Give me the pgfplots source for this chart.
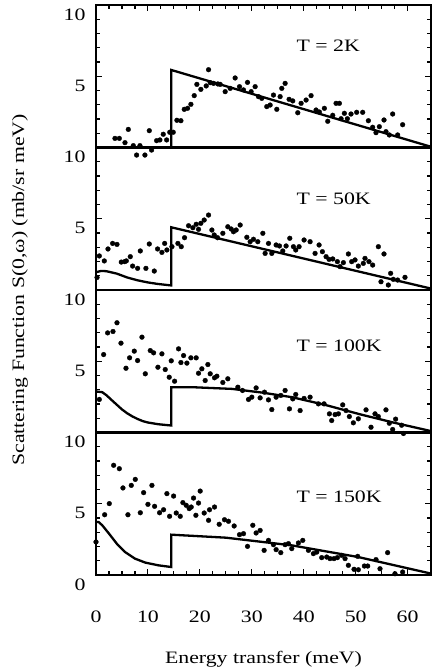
\documentclass[border=0pt]{standalone}
\usepackage{fontspec}
\setmainfont{Liberation Serif}[FakeStretch=1.25]
\usepackage{pgfplots}
\pgfplotsset{compat=1.18}

\pgfplotsset{
  panel/.style={
    scale only axis, width=335bp, height=142.5bp,
    anchor=north west,
    xmin=0, xmax=64.5, ymin=0, ymax=10,
    axis line style={line width=2.2bp, black},
    every outer x axis line/.append style={line width=2.2bp},
    every outer y axis line/.append style={line width=2.2bp},
    tick style={line width=1.1bp, black},
    major tick length=6bp, minor tick length=4bp,
    tick align=inside,
    ytick={5,10}, minor ytick={1,2,3,4,6,7,8,9},
    ytick pos=both, yticklabel pos=left,
    yticklabel style={anchor=north east, xshift=-7bp},
    tick label style={font=\fontsize{17.5}{20}\selectfont},
    /pgf/number format/assume math mode=true,
    clip=false,
  },
  model/.style={black, line width=2.3bp, no marks},
  pts/.style={only marks, mark=*, mark size=2.4bp, line width=0.3bp, black},
}
\tikzset{tlab/.style={anchor=west, inner sep=0pt, font=\fontsize{17.5}{20}\selectfont}}

\begin{document}
\begin{tikzpicture}

% T = 2K
\begin{axis}[panel, at={(96bp,-5bp)},
  xtick={0,10,...,60}, minor x tick num=3, xtick pos=right, xticklabels={}]
\addplot[model] coordinates {(0,0) (14.5,0) (14.5,5.44) (64.5,0.05)};
\addplot[pts] coordinates {
(3.65,0.64)(4.49,0.64)(5.58,0.34)(6.22,1.27)(7.18,0.13)(7.82,-0.53)(8.46,0.13)
(9.42,-0.53)(10.26,1.18)(10.7,-0.18)(11.67,0.48)(12.3,0.53)(12.95,0.93)(13.6,0.53)
(14.2,1.07)(14.87,1.07)(15.58,1.91)(16.35,1.88)(16.99,2.68)(17.63,2.75)(18.27,3.03)
(18.91,3.64)(19.42,4.43)(20.19,4.08)(21.22,4.32)(21.67,5.46)(21.99,4.55)(22.63,4.50)
(23.46,4.46)(23.91,4.43)(24.87,3.92)(25.83,4.15)(26.79,4.88)(27.63,4.27)(28.40,4.04)
(29.17,4.57)(29.87,3.92)(30.64,4.27)(31.28,3.57)(31.92,3.45)(32.88,2.87)(33.53,2.98)
(34.17,3.68)(34.81,2.68)(35.45,3.57)(35.77,4.15)(36.41,4.50)(37.18,3.38)(37.88,3.27)
(38.85,2.44)(39.49,3.10)(40.45,3.33)(41.41,3.64)(42.37,2.63)(43.01,2.49)(43.97,2.75)
(44.62,1.84)(45.58,2.26)(46.22,3.10)(46.86,3.10)(47.18,2.02)(47.82,2.40)(48.40,2.02)
(49.10,2.35)(50.19,2.47)(51.35,2.47)(52.44,1.88)(53.27,1.42)(53.91,1.04)(54.55,1.46)
(55.45,1.93)(55.83,1.11)(56.47,0.88)(57.12,2.35)(58.08,0.88)(59.04,1.60)
};
\node[tlab] at (axis cs:38.6,7.14) {T = 2K};
\end{axis}

% T = 50K
\begin{axis}[panel, at={(96bp,-147.5bp)}, xtick=\empty]
\addplot[model] coordinates {(0,1.25) (1,1.34) (2,1.32) (4,1.15) (6,0.88) (8,0.68)
  (10,0.53) (12,0.42) (14.5,0.32) (14.5,4.40) (64.5,0.1)};
\addplot[pts] coordinates {
(0.2,0.88)(0.64,2.39)(1.60,2.04)(2.31,2.88)(3.20,3.27)(4.04,3.20)(4.87,1.96)(5.51,1.99)
(5.83,2.04)(6.60,2.34)(7.05,1.68)(8.01,1.52)(8.53,2.74)(9.61,1.52)(10.26,3.23)
(11.22,1.33)(11.86,2.88)(12.69,2.64)(13.22,3.27)(13.65,2.81)(14.62,3.04)(15.77,3.27)
(16.41,3.04)(17.05,3.67)(17.82,4.51)(18.65,4.37)(19.29,4.61)(19.74,4.26)(20.19,4.68)
(20.83,4.91)(21.67,5.26)(22.31,4.21)(22.76,3.86)(23.40,3.67)(24.42,3.98)(25.38,4.44)
(26.03,4.28)(26.47,4.09)(26.99,4.21)(27.76,4.56)(29.04,3.70)(29.68,3.39)(30.32,3.56)
(31.15,3.39)(32.12,3.98)(32.56,2.57)(33.21,3.27)(33.85,2.57)(34.68,3.16)(35.32,3.09)
(35.96,2.74)(36.60,3.09)(37.31,3.63)(38.01,3.04)(38.46,2.81)(39.10,3.04)(40.06,3.51)
(41.22,3.39)(42.18,2.57)(42.95,3.16)(43.59,2.69)(44.30,2.34)(44.87,2.15)(45.58,2.18)
(46.47,1.99)(46.99,1.64)(47.63,1.92)(48.59,2.53)(49.23,1.99)(49.87,2.11)(50.51,1.68)
(51.47,1.87)(51.79,2.22)(52.56,1.99)(53.27,1.75)(54.36,3.04)(55.45,2.53)(54.87,0.58)
(56.28,0.35)(56.73,1.17)(57.24,0.75)(58.08,0.70)(59.49,0.89)
};
\node[tlab] at (axis cs:38.6,6.43) {T = 50K};
\end{axis}

% T = 100K
\begin{axis}[panel, at={(96bp,-290bp)}, xtick=\empty]
\addplot[model] coordinates {(0,2.88) (1.2,2.83) (2,2.62) (3,2.28) (4,1.95) (5,1.62)
  (6,1.35) (7,1.13) (8,0.95) (9,0.80) (10,0.70) (12,0.58) (14.5,0.49) (14.5,3.18)
  (18.5,3.18) (26.2,3.06) (32,2.80) (37.7,2.48) (44,1.95) (50.5,1.31) (57,0.72) (64.5,0.1)};
\addplot[pts] coordinates {
(0.64,2.32)(1.47,5.47)(2.24,6.99)(3.27,7.09)(4.04,7.70)(4.81,6.27)(5.77,4.51)(6.47,5.24)
(7.37,5.71)(8.01,5.05)(8.85,6.69)(9.49,4.12)(10.45,5.75)(11.09,5.59)(11.92,4.58)
(12.69,5.52)(13.33,4.42)(14.10,3.88)(14.49,5.03)(15.13,3.60)(15.90,5.87)(16.35,4.91)
(16.86,5.40)(17.50,4.87)(18.27,5.24)(19.29,5.24)(19.74,4.16)(20.38,4.47)(21.54,4.77)
(21.02,3.65)(21.99,4.12)(22.82,3.84)(23.27,3.95)(24.42,3.51)(25.38,3.77)(27.31,3.18)
(28.21,2.95)(29.36,2.32)(30.00,2.48)(30.83,3.13)(31.60,2.43)(32.44,2.83)(33.21,2.29)
(33.85,1.61)(34.68,2.48)(35.58,2.60)(36.41,2.95)(37.24,1.66)(37.88,2.36)(38.46,2.67)
(39.30,1.54)(40.06,2.39)(41.22,2.48)(42.82,2.01)(43.91,2.01)(44.94,1.31)(45.38,0.84)
(46.03,1.26)(46.67,1.31)(47.50,1.94)(48.14,1.54)(48.78,1.12)(49.55,0.68)(50.51,0.96)
(51.99,1.59)(52.95,0.37)(53.72,1.31)(54.36,1.12)(55.83,1.59)(56.47,0.65)(57.12,0.21)
(57.69,0.94)(58.85,0.51)(59.2,-0.07)
};
\node[tlab] at (axis cs:38.6,6.12) {T = 100K};
\end{axis}

% T = 150K
\begin{axis}[panel, at={(96bp,-432.5bp)},
  xtick={0,10,...,60}, minor x tick num=3, xtick pos=left,
  xticklabel style={yshift=-32bp}, ytick={0,5,10}]
\addplot[model] coordinates {(0,3.72) (0.5,3.72) (1.2,3.49) (2.4,2.95) (4,2.20)
  (5.6,1.61) (7.5,1.15) (9.5,0.87) (12,0.68) (14.5,0.56) (14.5,2.83) (25,2.62)
  (37.7,2.08) (50.5,1.26) (64.5,0.1)};
\addplot[pts] coordinates {
(0.0,2.32)(1.67,4.23)(2.56,5.01)(3.40,7.70)(4.49,7.46)(5.19,6.11)(6.15,4.23)(6.79,6.29)
(7.56,6.71)(8.53,4.37)(9.17,5.78)(10.0,4.96)(10.77,6.29)(11.28,4.82)(12.24,4.37)
(13.01,4.58)(13.65,5.71)(14.17,4.12)(14.94,5.54)(15.45,4.35)(16.22,4.12)(16.73,5.08)
(17.37,4.89)(17.95,4.66)(18.33,4.77)(18.78,5.40)(19.23,4.19)(19.74,5.05)(20.06,5.89)
(20.83,4.35)(21.67,3.84)(21.86,4.58)(22.82,4.77)(23.72,3.56)(24.74,3.88)(25.51,3.77)
(26.60,3.44)(27.63,2.83)(28.40,2.90)(29.17,2.01)(30.19,3.49)(30.83,2.95)(31.60,3.13)
(32.37,1.73)(33.21,2.43)(34.17,2.13)(34.68,1.78)(35.58,1.57)(36.41,2.13)(37.05,2.20)
(37.69,1.85)(38.97,2.25)(39.81,2.43)(40.90,1.73)(41.86,1.50)(42.50,1.61)(43.46,1.22)
(44.42,1.26)(45.06,1.15)(45.83,1.15)(46.47,1.22)(47.31,1.38)(47.95,1.15)(48.59,0.68)
(49.68,0.40)(50.51,0.37)(50.38,1.31)(51.67,0.63)(52.31,0.63)(53.91,1.08)(54.68,0.44)
(56.15,1.57)(57.56,0.09)(59.04,0.21)
};
\node[tlab] at (axis cs:38.6,5.49) {T = 150K};
\end{axis}

\node[rotate=90, font=\fontsize{17.5}{20}\selectfont] at (20bp,-290bp)
  {Scattering Function S(0,ω) (mb/sr meV)};
\node[font=\fontsize{17.5}{20}\selectfont] at (263.5bp,-659bp) {Energy transfer (meV)};

\pgfresetboundingbox
\path[use as bounding box] (0bp,0bp) rectangle (432bp,-671bp);
\end{tikzpicture}
\end{document}
